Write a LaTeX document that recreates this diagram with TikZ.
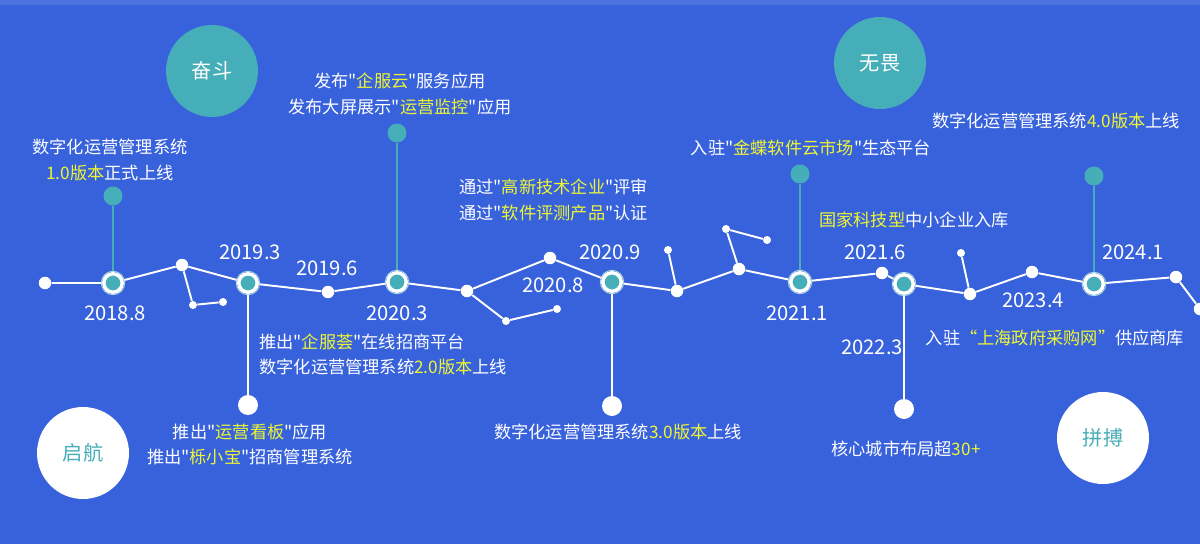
\documentclass[tikz,border=0pt]{standalone}
\usepackage{fontspec}
\usepackage{xcolor}
\usepackage{tikz}
\usetikzlibrary{positioning}
\newfontfamily\cjk{Noto Sans CJK SC}
\definecolor{bgblue}{RGB}{56,98,219}
\definecolor{topblue}{RGB}{76,116,222}
\definecolor{teal}{RGB}{70,174,184}
\definecolor{hlyellow}{RGB}{238,246,52}
\newcommand{\yel}[1]{\textcolor{hlyellow}{#1}}

\tikzset{
  link/.style={draw=white, line width=1.1pt},
  tealstem/.style={draw=teal, line width=1.6pt},
  whitestem/.style={draw=white, line width=1.3pt},
  milestone/.style={circle, fill=teal, draw=white, line width=2pt, minimum size=0.37cm, inner sep=0pt},
  glow/.style={circle, draw=teal!45, line width=0.5pt, minimum size=0.47cm, inner sep=0pt},
  dot/.style={circle, fill=white, minimum size=0.25cm, inner sep=0pt},
  smalldot/.style={circle, fill=white, minimum size=0.16cm, inner sep=0pt},
  enddot/.style={circle, fill=white, minimum size=0.40cm, inner sep=0pt},
  topdot/.style={circle, fill=teal, minimum size=0.38cm, inner sep=0pt},
  bigtile/.style={circle, minimum size=1.84cm, inner sep=0pt, font=\cjk\fontsize{11.5}{13}\selectfont},
  datelbl/.style={text=white, inner sep=0pt, font=\cjk\fontsize{11.5}{13}\selectfont},
  note/.style={text=white, inner sep=0pt, align=center, font=\cjk\fontsize{9.8}{14.3}\selectfont},
}

\begin{document}
\begin{tikzpicture}[x=0.02cm, y=-0.02cm]
		% background
		\fill[bgblue] (0,0) rectangle (1200,544);
		\fill[topblue] (0,0) rectangle (1200,5);
		\useasboundingbox (0,0) rectangle (1200,544);

		% big circles
		\node[bigtile, fill=teal, text=white] (fendou) at (212,71) {奋斗};
		\node[bigtile, fill=teal, text=white] (wuwei) at (880,63) {无畏};
		\node[bigtile, fill=white, text=teal] (qihang) at (83,453) {启航};
		\node[bigtile, fill=white, text=teal] (pinbo) at (1103,438) {拼搏};

		% timeline points
		\node[dot] (s0) at (45,283) {};
		\node[milestone] (m1) at (113,283) {};
		\node[dot] (d1) at (182,265) {};
		\node[milestone] (m2) at (248,283) {};
		\node[dot] (d2) at (328,292) {};
		\node[milestone] (m3) at (397,282) {};
		\node[dot] (d3) at (467,291) {};
		\node[dot] (d4) at (550,258) {};
		\node[milestone] (m4) at (612,282) {};
		\node[dot] (d5) at (677,291) {};
		\node[dot] (d6) at (739,269) {};
		\node[milestone] (m5) at (800,282) {};
		\node[dot] (d7) at (882,273) {};
		\node[milestone] (m6) at (904,284) {};
		\node[dot] (d8) at (970,294) {};
		\node[dot] (d9) at (1032,272) {};
		\node[milestone] (m7) at (1094,284) {};
		\node[dot] (d10) at (1176,277) {};
		\node[dot] (d11) at (1200,309) {};

		% side branches
		\node[smalldot] (b1) at (193,305) {};
		\node[smalldot] (b2) at (223,302) {};
		\node[smalldot] (b3) at (506,321) {};
		\node[smalldot] (b4) at (557,309) {};
		\node[smalldot] (b5) at (668,250) {};
		\node[smalldot] (b6) at (726,229) {};
		\node[smalldot] (b7) at (767,240) {};
		\node[smalldot] (b8) at (961,253) {};

		% stem ends
		\node[topdot] (t1) at (113,196) {};
		\node[topdot] (t2) at (397,133) {};
		\node[topdot] (t3) at (800,174) {};
		\node[topdot] (t4) at (1094,176) {};
		\node[enddot] (e1) at (248,405) {};
		\node[enddot] (e2) at (612,406) {};
		\node[enddot] (e3) at (904,409) {};

		\draw[link] (s0) -- (m1) -- (d1) -- (m2) -- (d2) -- (m3) -- (d3) -- (d4) -- (m4)
			-- (d5) -- (d6) -- (m5) -- (d7) -- (m6) -- (d8) -- (d9) -- (m7) -- (d10) -- (d11);
		\draw[link] (d1) -- (b1) -- (b2);
		\draw[link] (d3) -- (b3) -- (b4);
		\draw[link] (d5) -- (b5);
		\draw[link] (d6) -- (b6) -- (b7);
		\draw[link] (d8) -- (b8);

		\draw[tealstem] (m1) -- (t1);
		\draw[tealstem] (m3) -- (t2);
		\draw[tealstem] (m5) -- (t3);
		\draw[tealstem] (m7) -- (t4);
		\draw[whitestem] (m2) -- (e1);
		\draw[whitestem] (m4) -- (e2);
		\draw[whitestem] (m6) -- (e3);

		\foreach \m in {m1,m2,m3,m4,m5,m6,m7}
			\node[glow] at (\m) {};

		% dates
		\node[datelbl] (l1) at (115,313) {2018.8};
		\node[datelbl] (l2) at (250,252) {2019.3};
		\node[datelbl] (l3) at (327,268) {2019.6};
		\node[datelbl] (l4) at (397,313) {2020.3};
		\node[datelbl] (l5) at (553,285) {2020.8};
		\node[datelbl] (l6) at (610,252) {2020.9};
		\node[datelbl] (l7) at (797,313) {2021.1};
		\node[datelbl] (l8) at (875,252) {2021.6};
		\node[datelbl] (l9) at (872,347) {2022.3};
		\node[datelbl] (l10) at (1033,300) {2023.4};
		\node[datelbl] (l11) at (1133,252) {2024.1};

		% events
		\node[note] (n1) at (110,160) {数字化运营管理系统\\\yel{1.0版本}正式上线};
		\node[note] (n2) at (250,444) {推出"\yel{运营看板}"应用\\推出"\yel{栎小宝}"招商管理系统};
		\node[note, anchor=west, align=left] (n3) at (259,354) {推出"\yel{企服荟}"在线招商平台\\数字化运营管理系统\yel{2.0版本}上线};
		\node[note] (n4) at (400,94) {发布"\yel{企服云}"服务应用\\发布大屏展示"\yel{运营监控}"应用};
		\node[note, anchor=west, align=left] (n5) at (459,200) {通过"\yel{高新技术企业}"评审\\通过"\yel{软件评测产品}"认证};
		\node[note] (n6) at (618,432) {数字化运营管理系统\yel{3.0版本}上线};
		\node[note] (n7) at (811,148) {入驻"\yel{金蝶软件云市场}"生态平台};
		\node[note] (n8) at (914,220) {\yel{国家科技型}中小企业入库};
		\node[note] (n9) at (906,449) {核心城市布局超\yel{30+}};
		\node[note] (n10) at (1055,338) {入驻\yel{“上海政府采购网”}供应商库};
		\node[note] (n11) at (1056,121) {数字化运营管理系统\yel{4.0版本}上线};
	\end{tikzpicture}
\end{document}
